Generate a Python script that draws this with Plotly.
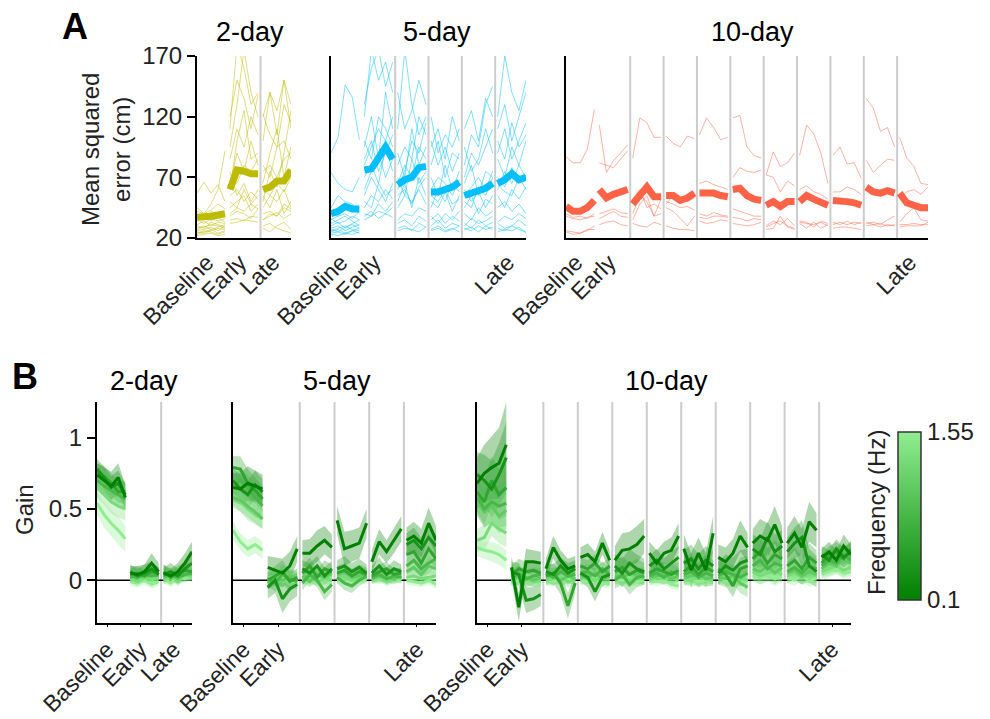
import plotly.graph_objects as go

W, H = 990, 719
FONT = "Liberation Sans, Arial, sans-serif"

# ------------------------------------------------------------------ data
tick_labels = ["Baseline", "Early", "Late"]
n_sessions = {"2-day": 3, "5-day": 6, "10-day": 11}
tick_sessions = {"2-day": [0, 1, 2], "5-day": [0, 1, 5], "10-day": [0, 1, 10]}
PTS = 5  # blocks per session

# Panel A: mean squared error (cm), group mean per block (sessions concatenated)
mse_mean_2day = [37, 37, 38, 39, 40, 60, 76, 75, 73, 73, 60, 62, 67, 67, 76]
mse_mean_5day = [40, 42, 46, 44, 44, 76, 77, 86, 95, 85, 64, 68, 70, 78, 79,
                 58, 58, 60, 62, 66, 55, 57, 59, 61, 65, 65, 68, 73, 68, 70]
mse_mean_10day = [46, 42, 42, 45, 51, 60, 53, 56, 58, 60, 48, 56, 62, 54, 54,
                  55, 55, 51, 53, 57, 57, 57, 57, 55, 54, 60, 61, 55, 52, 51,
                  47, 50, 46, 50, 50, 50, 55, 52, 50, 47, 51, 51, 50, 49, 47,
                  62, 58, 57, 59, 57, 57, 49, 47, 45, 45]

# individual participants
mse_subj_2day = [
    [25, 24, 26, 28, 27, 35, 36, 34, 38, 37, 30, 32, 28, 26, 24],
    [28, 30, 27, 29, 31, 40, 45, 42, 48, 44, 35, 38, 41, 36, 40],
    [57, 66, 57, 64, 50, 120, 150, 135, 110, 138, 122, 105, 95, 130, 115],
    [42, 40, 48, 60, 92, 60, 100, 125, 85, 90, 65, 90, 110, 70, 95],
    [30, 28, 33, 31, 29, 45, 50, 55, 42, 48, 55, 45, 60, 40, 50],
    [36, 40, 34, 37, 33, 110, 180, 160, 130, 140, 100, 140, 125, 150, 110],
    [24, 26, 25, 23, 25, 32, 33, 35, 34, 33, 28, 25, 30, 33, 27],
    [45, 40, 43, 48, 44, 70, 65, 80, 75, 85, 75, 80, 70, 85, 90],
    [27, 29, 31, 30, 28, 55, 60, 50, 58, 52, 45, 55, 50, 60, 45],
    [35, 32, 36, 34, 36, 65, 90, 75, 100, 80, 80, 70, 95, 100, 85],
    [22, 23, 24, 22, 23, 38, 42, 40, 36, 44, 35, 40, 38, 45, 42],
    [31, 34, 30, 33, 32, 85, 110, 95, 120, 105, 120, 140, 105, 150, 130],
    [26, 27, 29, 26, 30, 50, 45, 60, 48, 55, 40, 42, 38, 48, 44],
    [38, 36, 42, 39, 40, 75, 55, 65, 50, 60, 60, 55, 65, 58, 70],
    [23, 25, 27, 24, 26, 95, 130, 175, 140, 120, 50, 75, 62, 90, 125],
]
mse_subj_5day = [
    [24, 25, 23, 26, 24, 38, 42, 36, 40, 45, 26, 28, 27, 25, 29, 27, 30, 26, 28, 25, 28, 26, 30, 27, 29, 25, 27, 26, 29, 24],
    [90, 103, 146, 136, 101, 120, 175, 150, 165, 140, 110, 175, 130, 105, 120, 95, 110, 85, 120, 100, 80, 105, 95, 130, 145, 120, 170, 140, 125, 150],
    [74, 65, 60, 58, 70, 95, 120, 85, 140, 110, 60, 75, 100, 90, 115, 70, 55, 80, 60, 75, 65, 80, 55, 75, 70, 85, 70, 95, 80, 100],
    [30, 33, 28, 32, 35, 60, 75, 90, 70, 85, 50, 65, 45, 70, 55, 45, 60, 50, 65, 58, 50, 45, 62, 55, 70, 60, 75, 65, 80, 70],
    [26, 28, 30, 27, 26, 45, 55, 50, 60, 52, 35, 40, 38, 45, 42, 38, 32, 40, 35, 42, 40, 35, 45, 38, 42, 45, 50, 42, 48, 40],
    [35, 38, 40, 36, 42, 80, 95, 110, 100, 120, 90, 70, 110, 80, 95, 80, 100, 70, 90, 85, 95, 75, 85, 110, 90, 100, 85, 115, 95, 105],
    [28, 30, 26, 29, 31, 50, 45, 65, 55, 60, 45, 55, 50, 60, 48, 30, 35, 28, 32, 30, 32, 28, 35, 30, 33, 32, 28, 30, 35, 30],
    [40, 38, 44, 42, 45, 130, 160, 175, 145, 165, 140, 110, 125, 150, 130, 120, 90, 105, 95, 110, 110, 125, 100, 135, 120, 110, 130, 100, 120, 140],
    [23, 22, 24, 23, 25, 35, 38, 42, 40, 37, 28, 30, 26, 32, 29, 26, 28, 25, 27, 30, 27, 29, 25, 30, 27, 28, 26, 30, 27, 25],
    [32, 35, 38, 34, 30, 70, 80, 65, 95, 75, 65, 80, 70, 95, 85, 60, 70, 65, 55, 68, 55, 62, 70, 60, 75, 70, 62, 78, 65, 72],
    [27, 25, 29, 31, 28, 55, 70, 60, 50, 65, 55, 60, 48, 62, 70, 50, 45, 58, 42, 55, 45, 55, 40, 52, 48, 55, 45, 60, 52, 62],
    [36, 32, 34, 38, 35, 100, 85, 120, 110, 95, 80, 95, 85, 120, 105, 100, 80, 95, 75, 90, 70, 90, 80, 95, 110, 90, 110, 85, 100, 115],
    [25, 27, 24, 26, 28, 40, 38, 48, 42, 50, 32, 35, 30, 38, 34, 35, 40, 32, 38, 34, 30, 36, 32, 34, 38, 33, 38, 35, 40, 36],
    [45, 55, 50, 48, 40, 85, 100, 75, 90, 105, 70, 55, 85, 65, 75, 55, 50, 60, 48, 52, 60, 50, 58, 45, 55, 65, 58, 55, 70, 60],
]
mse_subj_10day = [
    [87, 82, 82, 93, 126, 113, 74, 84, 90, 97, 86, 119, 115, 103, 103, 104, 98, 95, 104, 102, 105, 119, 111, 101, 103,
     119, 121, 95, 88, 86, 72, 91, 79, 82, 90, 88, 113, 106, 90, 65, 88, 95, 81, 82, 69, 135, 127, 108, 111, 95, 103, 86, 79, 65, 64],
    [40, 37, 38, 36, 40, 82, 80, 78, 85, 92, 40, 55, 50, 38, 52, 48, 55, 52, 50, 53, 65, 67, 64, 62, 60,
     70, 78, 75, 74, 76, 72, 70, 58, 67, 63, 60, 63, 58, 56, 52, 58, 58, 62, 60, 56, 84, 74, 80, 85, 84, 52, 58, 60, 56, 62],
    [38, 36, 35, 37, 38, 40, 42, 44, 41, 40, 52, 60, 45, 48, 44, 50, 48, 45, 46, 43, 37, 36, 38, 38, 37,
     37, 36, 34, 36, 35, 29, 32, 34, 30, 28, 33, 32, 31, 33, 30, 31, 33, 31, 33, 32, 32, 33, 31, 35, 38, 29, 30, 30, 30, 33],
    [26, 25, 24, 27, 27, 31, 33, 34, 31, 30, 32, 30, 29, 33, 31, 30, 28, 27, 27, 26, 34, 32, 33, 35, 34,
     32, 31, 30, 31, 33, 27, 28, 38, 29, 27, 32, 28, 33, 28, 31, 28, 29, 29, 28, 27, 30, 31, 29, 31, 30, 31, 31, 32, 31, 31],
    [25, 23, 24, 26, 30, 36, 39, 42, 38, 37, 35, 48, 55, 38, 40, 45, 42, 36, 30, 38, 40, 38, 41, 39, 38,
     44, 42, 40, 38, 38, 30, 34, 31, 36, 30, 34, 33, 29, 34, 32, 33, 31, 34, 31, 33, 33, 31, 32, 30, 31, 33, 40, 45, 35, 34],
]

# Panel B: gain per frequency (lowest -> highest frequency), sessions concatenated
gain_2day = [
    [.74, .70, .66, .72, .58, .05, .04, .06, .12, .06, .05, .03, .06, .12, .20],
    [.78, .72, .65, .68, .60, .06, .03, .05, .08, .04, .04, .06, .03, .08, .12],
    [.76, .73, .68, .62, .62, .04, .05, .03, .06, .05, .06, .02, .05, .07, .06],
    [.70, .66, .63, .60, .57, .03, .02, .04, .03, .04, .03, .05, .02, .04, .05],
    [.72, .68, .64, .62, .58, .02, .04, .02, .05, .03, .02, .04, .01, .05, .04],
    [.65, .60, .55, .52, .50, .01, -.01, .02, .00, .02, .00, .03, -.01, .04, .02],
    [.54, .46, .40, .35, .29, -.01, -.02, .00, -.03, -.01, .01, -.02, .03, .01, .03],
]
sem_2day = [
    [.08, .09, .10, .10, .09, .05, .06, .05, .07, .06, .06, .05, .06, .07, .07],
    [.07, .08, .08, .09, .08, .05, .05, .06, .05, .05, .05, .06, .05, .06, .06],
    [.06, .07, .07, .08, .07, .04, .05, .04, .05, .04, .05, .04, .05, .05, .05],
    [.06, .06, .07, .07, .07, .04, .04, .04, .05, .04, .04, .04, .04, .05, .04],
    [.06, .07, .07, .07, .07, .04, .03, .04, .04, .04, .04, .04, .04, .04, .04],
    [.07, .07, .08, .08, .08, .03, .03, .03, .04, .03, .03, .04, .03, .04, .03],
    [.08, .09, .09, .10, .09, .03, .03, .03, .03, .03, .03, .03, .03, .03, .03],
]
gain_5day = [
    [.65, .64, .68, .66, .64, .09, .07, .05, .10, .22, .19, .19, .24, .28, .23, .42, .22, .24, .26, .40, .13, .27, .20, .28, .36, .28, .31, .26, .40, .28],
    [.70, .64, .60, .67, .62, -.05, .00, -.13, -.06, -.03, .08, .05, .10, .03, .08, .08, .10, .06, .09, .05, .05, .10, .04, .08, .06, .25, .28, .22, .30, .24],
    [.79, .78, .68, .63, .57, .00, .03, .06, -.01, .02, .05, .10, .02, .08, .06, .05, .07, .03, .06, .04, .03, .06, .08, .04, .05, .18, .20, .12, .22, .15],
    [.66, .70, .65, .58, .52, .01, -.02, .04, .01, -.01, -.02, .04, .00, -.08, -.03, .02, -.02, -.04, .00, .03, .02, .04, .01, .03, .02, .10, .14, .08, .12, .15],
    [.58, .56, .52, .48, .43, -.02, .02, .00, .03, .01, .03, -.01, .04, .02, .05, .04, .06, .02, .03, .05, .01, .03, .02, .01, .03, .06, .09, .04, .10, .08],
    [.60, .55, .50, .46, .43, .01, .03, -.01, .01, .02, .00, .02, -.01, .01, .00, .01, .02, .00, .01, .02, .00, .02, -.01, .01, .02, .02, .03, .01, .02, .03],
    [.35, .27, .22, .25, .21, .00, .01, .02, -.01, .00, .00, -.01, .01, .00, .01, .00, .01, -.01, .01, .00, .01, .00, .02, .01, .00, .00, -.01, -.02, .00, -.03],
]
sem_5day = [
    [.10, .11, .12, .11, .10, .08, .09, .10, .10, .09, .09, .10, .11, .10, .09, .10, .12, .11, .11, .10, .08, .09, .08, .09, .09, .09, .10, .10, .11, .10],
    [.09, .10, .10, .10, .09, .08, .09, .10, .09, .08, .06, .07, .07, .06, .06, .06, .07, .06, .06, .06, .05, .06, .05, .06, .05, .08, .09, .08, .09, .08],
    [.08, .09, .10, .09, .09, .06, .07, .08, .07, .06, .05, .06, .05, .06, .05, .05, .05, .05, .05, .05, .04, .05, .05, .04, .04, .07, .08, .07, .08, .07],
    [.08, .08, .09, .09, .08, .05, .06, .07, .06, .05, .05, .05, .05, .06, .05, .04, .05, .05, .04, .04, .04, .04, .04, .04, .04, .06, .07, .06, .07, .06],
    [.07, .08, .08, .08, .07, .05, .05, .05, .05, .05, .04, .04, .04, .04, .04, .04, .04, .04, .04, .04, .03, .04, .03, .04, .03, .05, .06, .05, .06, .05],
    [.07, .07, .08, .07, .07, .04, .04, .04, .04, .04, .03, .04, .03, .04, .03, .03, .03, .03, .03, .03, .03, .03, .03, .03, .03, .04, .04, .04, .04, .04],
    [.06, .06, .06, .06, .06, .03, .03, .03, .03, .03, .03, .03, .03, .03, .03, .03, .03, .03, .03, .03, .02, .03, .02, .03, .02, .03, .03, .03, .03, .03],
]
gain_10day = [
    [.68, .75, .79, .82, .95, .09, -.19, .13, .13, .12, .08, .23, .14, .08, .10, .16, .18, .13, .26, .14, .14, .21, .22, .25, .31,
     .19, .12, .19, .21, .31, .22, .07, .19, .07, .33, .16, .13, .19, .31, .23, .26, .31, .28, .39, .26, .26, .33, .23, .41, .35, .16, .20, .14, .24, .18],
    [.74, .70, .64, .74, .86, .06, .04, -.14, -.13, -.10, .06, .04, .10, .05, .08, .05, .02, -.08, .02, .04, .10, .05, .12, .08, .06,
     .10, .14, .08, .12, .16, .12, .15, .08, .14, .10, .05, .10, .07, .12, .14, .22, .18, .30, .20, .24, .20, .26, .30, .10, .06, .18, .14, .22, .16, .20],
    [.62, .55, .70, .60, .65, .04, .08, .06, .07, .05, .03, .05, -.02, -.18, -.02, .10, .08, .12, .06, .10, .06, .09, .04, .07, .05,
     .05, .08, .06, .04, .07, .06, .10, .04, .09, .06, .08, .04, -.04, .08, .10, .15, .20, .12, .18, .15, .10, .14, .08, .16, .12, .12, .18, .20, .15, .22],
    [.58, .50, .55, .52, .54, .02, .05, .01, .03, .04, .05, .02, .06, .03, .04, .05, .06, .03, .08, .04, .00, .04, -.03, .02, .03,
     .03, .05, .02, .06, .04, .04, .06, .02, .05, .03, .03, .06, .04, .02, .05, .10, .14, .08, .12, .10, .06, .09, .05, .10, .08, .10, .14, .12, .18, .14],
    [.55, .48, .52, .45, .49, .01, .03, .02, .00, .02, .02, .04, .00, .03, .01, .03, .02, .05, .01, .03, .03, .02, .05, .04, .02,
     .02, .03, .05, .01, .03, .02, .03, .05, .01, .02, .02, .01, .03, -.02, -.05, .08, .06, .10, .05, .09, .05, .07, .03, .06, .04, .08, .12, .10, .15, .12],
    [.28, .30, .40, .36, .33, .00, .02, .01, -.01, .00, .00, .01, .02, -.01, .00, .01, .02, .00, .02, .01, .01, .03, .00, .02, .01,
     .00, .02, .01, .02, .00, .01, .00, .02, .01, .00, .01, .02, .00, .01, .00, .06, .03, .05, .07, .04, .03, .05, .02, .04, .03, .06, .08, .10, .07, .09],
    [.23, .21, .20, .18, .14, -.01, .00, .02, -.01, -.02, .00, -.01, .01, .00, .02, .00, -.01, .02, -.02, -.03, .01, .00, .02, -.01, .00,
     .01, -.01, .00, -.03, -.04, .00, .01, -.01, .00, .02, .02, .00, .01, -.01, .00, .03, .02, .04, .01, .03, .02, .00, .04, -.01, .02, .04, .06, .08, .05, .06],
]
sem_10day = [
    [.18, .20, .22, .25, .30, .08, .10, .09, .08, .08, .07, .08, .07, .07, .07, .07, .08, .07, .08, .07, .10, .12, .12, .13, .12,
     .08, .09, .08, .09, .09, .10, .12, .11, .12, .12, .09, .10, .10, .11, .10, .10, .12, .12, .13, .12, .11, .12, .13, .14, .12, .06, .07, .07, .08, .07],
    [.16, .18, .20, .22, .25, .07, .08, .09, .08, .08, .06, .07, .06, .07, .06, .06, .07, .07, .06, .06, .08, .10, .10, .10, .09,
     .07, .08, .07, .08, .08, .09, .10, .10, .10, .10, .08, .08, .09, .09, .08, .10, .11, .11, .12, .11, .10, .11, .12, .12, .11, .06, .07, .07, .07, .07],
    [.14, .16, .17, .18, .20, .06, .07, .07, .07, .06, .06, .07, .08, .09, .07, .06, .06, .06, .06, .06, .07, .08, .08, .08, .07,
     .06, .07, .06, .07, .06, .08, .09, .08, .09, .08, .07, .08, .08, .08, .07, .09, .10, .10, .10, .09, .08, .09, .09, .10, .09, .06, .06, .07, .06, .06],
    [.12, .13, .14, .15, .16, .05, .06, .06, .06, .05, .05, .06, .05, .06, .05, .05, .05, .05, .05, .05, .06, .07, .07, .07, .06,
     .05, .06, .05, .06, .05, .06, .07, .07, .07, .06, .06, .06, .07, .06, .06, .08, .09, .08, .09, .08, .07, .08, .08, .08, .07, .05, .06, .06, .06, .05],
    [.10, .11, .12, .12, .13, .04, .05, .05, .05, .04, .04, .05, .04, .05, .04, .04, .05, .04, .05, .04, .05, .06, .06, .06, .05,
     .04, .05, .05, .05, .04, .05, .06, .06, .06, .05, .05, .06, .06, .07, .07, .07, .07, .07, .08, .07, .06, .07, .06, .07, .06, .05, .05, .05, .06, .05],
    [.08, .09, .09, .10, .10, .04, .04, .04, .04, .04, .04, .04, .04, .04, .04, .04, .04, .04, .04, .04, .04, .05, .05, .05, .04,
     .04, .04, .04, .04, .04, .04, .05, .05, .05, .04, .04, .05, .05, .05, .04, .06, .06, .06, .06, .06, .05, .05, .05, .05, .05, .04, .05, .05, .05, .04],
    [.06, .06, .07, .07, .07, .03, .03, .03, .03, .03, .03, .03, .03, .03, .03, .03, .03, .03, .03, .03, .03, .04, .04, .04, .03,
     .03, .03, .03, .03, .03, .03, .04, .04, .04, .03, .03, .04, .04, .04, .03, .04, .05, .05, .05, .04, .04, .04, .04, .04, .04, .04, .04, .04, .04, .04],
]
freq_min, freq_max = 0.1, 1.55

# ------------------------------------------------------------------ styling
SPAN = 0.85
TICK_OFFSET = 0.3
A_COL = {"2-day": (189, 187, 0), "5-day": (0, 191, 255), "10-day": (255, 99, 71)}
DARK, LIGHT = (0, 128, 0), (144, 238, 144)

def rgba(c, a):
    return f"rgba({c[0]},{c[1]},{c[2]},{a})"

def green(i, n):
    t = i / (n - 1)
    return tuple(round(DARK[k] + t * (LIGHT[k] - DARK[k])) for k in range(3))

def sess_x(s):
    return [s + SPAN * i / (PTS - 1) for i in range(PTS)]

def gapped(values, nsess):
    xs, ys = [], []
    for s in range(nsess):
        xs += sess_x(s) + [None]
        ys += list(values[s * PTS:(s + 1) * PTS]) + [None]
    return xs, ys

def px_x(a, b):
    return [a / W, b / W]

def px_y(top, bot):
    return [1 - bot / H, 1 - top / H]

panels = ["2-day", "5-day", "10-day"]
A_dom = {"2-day": px_x(197, 291), "5-day": px_x(331, 526), "10-day": px_x(566, 928)}
B_dom = {"2-day": px_x(97, 192), "5-day": px_x(233, 436), "10-day": px_x(477, 851)}
A_ydom = px_y(56, 238)
B_ydom = px_y(402, 623)

mse_mean = {"2-day": mse_mean_2day, "5-day": mse_mean_5day, "10-day": mse_mean_10day}
mse_subj = {"2-day": mse_subj_2day, "5-day": mse_subj_5day, "10-day": mse_subj_10day}
gain = {"2-day": gain_2day, "5-day": gain_5day, "10-day": gain_10day}
sem = {"2-day": sem_2day, "5-day": sem_5day, "10-day": sem_10day}

fig = go.Figure()
layout = dict(width=W, height=H, margin=dict(l=0, r=0, t=0, b=0, autoexpand=False),
              paper_bgcolor="white", plot_bgcolor="white", showlegend=False,
              font=dict(family=FONT, size=24, color="#222"))
shapes, annotations = [], []

for pi, p in enumerate(panels):
    ns = n_sessions[p]
    xr = [0, ns - 1 + SPAN]
    tv = [s + TICK_OFFSET for s in tick_sessions[p]]
    for row in (0, 1):
        idx = pi + 1 + 3 * row
        xa = "x" if idx == 1 else f"x{idx}"
        ya = "y" if idx == 1 else f"y{idx}"
        xkey = "xaxis" if idx == 1 else f"xaxis{idx}"
        ykey = "yaxis" if idx == 1 else f"yaxis{idx}"
        layout[xkey] = dict(domain=(A_dom if row == 0 else B_dom)[p], range=xr, anchor=ya,
                            automargin=False,
                            showline=True, linecolor="black", linewidth=2, showgrid=False,
                            zeroline=False, tickvals=tv, ticktext=tick_labels, tickangle=-45,
                            ticks="outside" if row == 1 else "", ticklen=2, tickcolor="black",
                            tickfont=dict(size=23, color="#222"))
        first = pi == 0
        if row == 0:
            yd = dict(range=[20, 170], tickvals=[20, 70, 120, 170])
        else:
            yd = dict(range=[-0.3, 1.25], tickvals=[0, 0.5, 1], ticktext=["0", "0.5", "1"])
        layout[ykey] = dict(domain=A_ydom if row == 0 else B_ydom, anchor=xa,
                            automargin=False,
                            showline=True, linecolor="black", linewidth=2, showgrid=False,
                            zeroline=False, ticks="outside" if first else "", ticklen=8,
                            tickwidth=1.5, tickcolor="black", showticklabels=first,
                            tickfont=dict(size=24, color="#222"), **yd)
        # session separators
        for s in range(1, ns - 1):
            xs = s + SPAN + (1 - SPAN) / 2
            shapes.append(dict(type="line", xref=xa, yref=f"{ya} domain", x0=xs, x1=xs,
                               y0=0, y1=1, line=dict(color="#cccccc", width=2), layer="below"))
        if row == 0:
            col = A_COL[p]
            for subj in mse_subj[p]:
                x, y = gapped(subj, ns)
                fig.add_trace(go.Scatter(x=x, y=y, xaxis=xa, yaxis=ya, mode="lines",
                                         line=dict(color=rgba(col, 0.5), width=1),
                                         hoverinfo="skip"))
            x, y = gapped(mse_mean[p], ns)
            fig.add_trace(go.Scatter(x=x, y=y, xaxis=xa, yaxis=ya, mode="lines",
                                     line=dict(color=rgba(col, 1), width=7),
                                     hoverinfo="skip"))
        else:
            shapes.append(dict(type="line", xref=f"{xa} domain", yref=ya, x0=0, x1=1,
                               y0=0, y1=0, line=dict(color="black", width=1.5), layer="below"))
            nf = len(gain[p])
            for f in range(nf):
                c = green(f, nf)
                px, py = [], []
                for s in range(ns):
                    xs = sess_x(s)
                    m = gain[p][f][s * PTS:(s + 1) * PTS]
                    e = sem[p][f][s * PTS:(s + 1) * PTS]
                    up = [a + b for a, b in zip(m, e)]
                    lo = [a - b for a, b in zip(m, e)]
                    px += xs + xs[::-1] + [None]
                    py += up + lo[::-1] + [None]
                fig.add_trace(go.Scatter(x=px, y=py, xaxis=xa, yaxis=ya, mode="lines",
                                         fill="toself", fillcolor=rgba(c, 0.32),
                                         line=dict(width=0, color=rgba(c, 0)),
                                         hoverinfo="skip"))
            for f in reversed(range(nf)):
                c = green(f, nf)
                x, y = gapped(gain[p][f], ns)
                fig.add_trace(go.Scatter(x=x, y=y, xaxis=xa, yaxis=ya, mode="lines",
                                         line=dict(color=rgba(c, 1), width=3),
                                         hoverinfo="skip"))

# colour bar
fig.add_trace(go.Scatter(
    x=[0.5], y=[-5], xaxis="x6", yaxis="y6", mode="markers", hoverinfo="skip",
    marker=dict(size=1, color=[freq_min], cmin=freq_min, cmax=freq_max,
                colorscale=[[0, rgba(DARK, 1)], [1, rgba(LIGHT, 1)]], showscale=True,
                colorbar=dict(x=898 / W, xanchor="left", xpad=0, ypad=0,
                              y=1 - 516 / H, yanchor="middle", len=168, lenmode="pixels",
                              thickness=23, thicknessmode="pixels",
                              outlinecolor="#333", outlinewidth=1.5,
                              tickvals=[freq_min, freq_max], ticktext=["0.1", "1.55"],
                              ticks="", tickfont=dict(size=24, color="#222")))))

def ann(text, x, y, size, bold=False, angle=0, color="#222"):
    annotations.append(dict(text=f"<b>{text}</b>" if bold else text, x=x / W, y=1 - y / H,
                            xref="paper", yref="paper", showarrow=False, xanchor="center",
                            yanchor="middle", textangle=angle,
                            font=dict(family=FONT, size=size, color=color)))

ann("A", 75, 27, 36, bold=True, color="black")
ann("B", 25, 376, 36, bold=True, color="black")
for t, x in (("2-day", 250), ("5-day", 437), ("10-day", 752)):
    ann(t, x, 32, 27, color="black")
for t, x in (("2-day", 144), ("5-day", 337), ("10-day", 666)):
    ann(t, x, 381, 27, color="black")
ann("Mean squared<br>error (cm)", 106, 150, 24, angle=-90)
ann("Gain", 24, 510, 24, angle=-90)
ann("Frequency (Hz)", 876, 513, 24, angle=-90)

layout["shapes"] = shapes
layout["annotations"] = annotations
fig.update_layout(**layout)
fig.write_html("out.html")
